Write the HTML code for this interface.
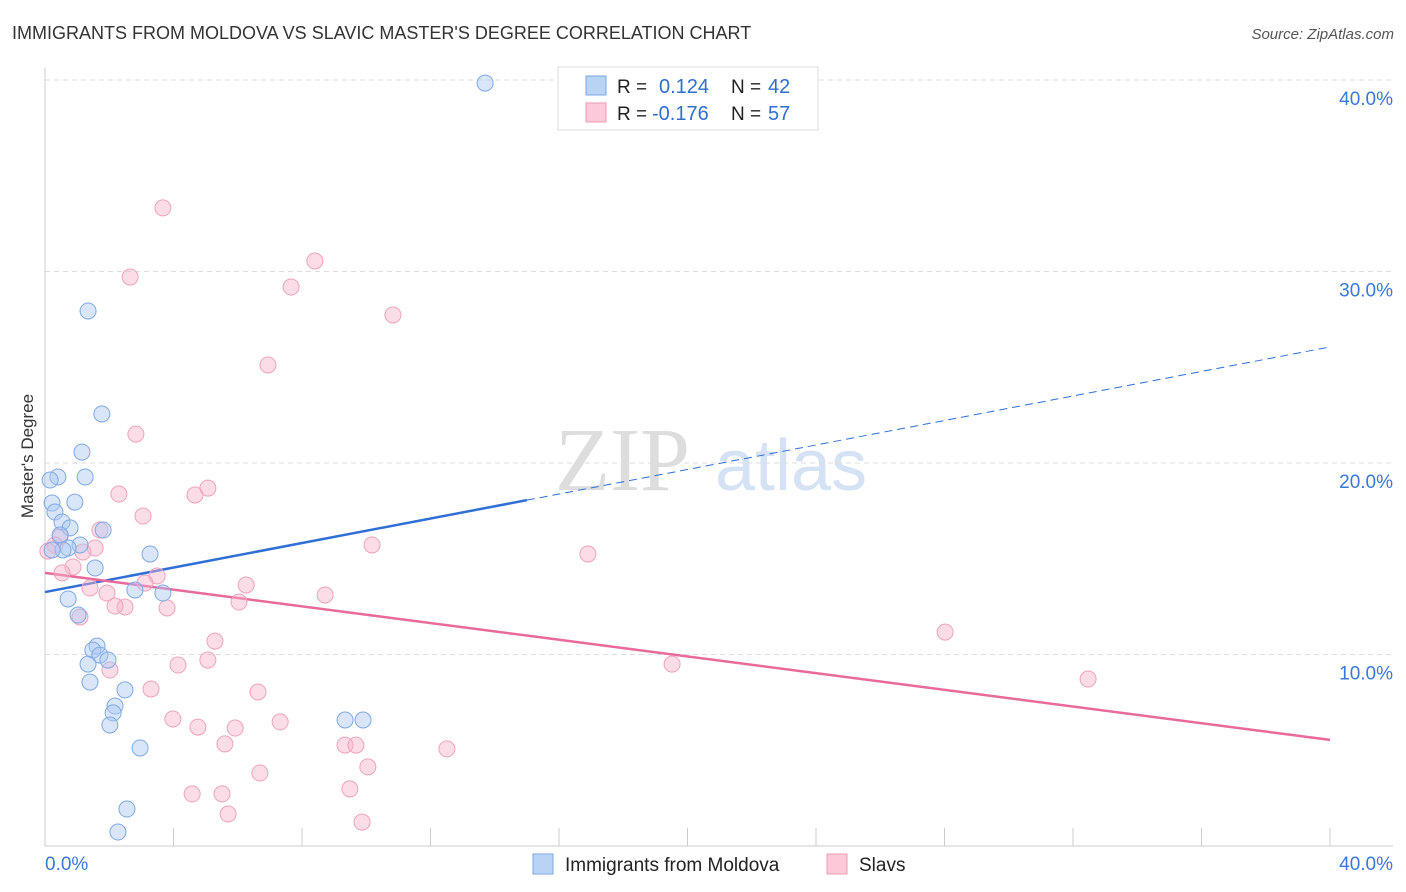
<!DOCTYPE html>
<html><head><meta charset="utf-8"><style>
body{margin:0;background:#fff;font-family:"Liberation Sans",sans-serif;}
svg{display:block}
</style></head><body>
<svg id="chart" width="1406" height="892">
<text x="12" y="39" font-size="18" fill="#333">IMMIGRANTS FROM MOLDOVA VS SLAVIC MASTER'S DEGREE CORRELATION CHART</text>
<text x="1394" y="39" font-size="15" fill="#555" font-style="italic" text-anchor="end">Source: ZipAtlas.com</text>
<text x="33" y="456" font-size="17" fill="#333" text-anchor="middle" transform="rotate(-90 33 456)">Master's Degree</text>
<g>
<text x="555" y="490" font-size="90" fill="#ddd" font-family="Liberation Serif,serif">ZIP</text>
<text x="715" y="490" font-size="72" fill="#d4e2f4">atlas</text>
</g>
<g id="grid"></g>
<g id="ticks"></g>
<g id="lines"></g>
<g id="pts"></g>
<g>
<rect x="558" y="67" width="260" height="63" fill="#fff" stroke="#ddd"/>
<rect x="586" y="76" width="20" height="19" fill="#b9d3f5" stroke="#7ea7e3"/>
<rect x="586" y="103" width="20" height="19" fill="#fbc9d8" stroke="#ec9ab4"/>
<text x="617" y="93" font-size="19" fill="#222">R = </text><text x="659" y="93" font-size="20" fill="#2f6fce">0.124</text>
<text x="731" y="93" font-size="19" fill="#222">N = </text><text x="768" y="93" font-size="20" fill="#2f6fce">42</text>
<text x="617" y="120" font-size="19" fill="#222">R = </text><text x="652" y="120" font-size="20" fill="#2f6fce">-0.176</text>
<text x="731" y="120" font-size="19" fill="#222">N = </text><text x="768" y="120" font-size="20" fill="#2f6fce">57</text>
</g>
<g>
<rect x="533" y="854" width="20" height="20" fill="#b9d3f5" stroke="#7ea7e3"/>
<text x="565" y="871" font-size="19" fill="#222">Immigrants from Moldova</text>
<rect x="827" y="854" width="20" height="20" fill="#fbc9d8" stroke="#ec9ab4"/>
<text x="859" y="871" font-size="19" fill="#222">Slavs</text>
</g>
</svg>
<script>
const yTicks=[10,20,30,40];
const xTickLabels=["0.0%","40.0%"];
const blueX=[13.70,1.34,1.77,1.15,1.25,0.40,0.16,0.93,0.22,0.31,0.53,0.78,1.81,0.47,1.09,0.72,0.56,0.22,3.27,1.56,0.72,2.80,3.67,1.03,1.62,1.49,1.71,1.96,1.34,1.40,2.49,2.18,2.12,2.02,2.96,9.34,9.90,2.55,2.27];
const blueY=[39.84,27.94,22.56,20.57,19.27,19.27,19.11,17.96,17.91,17.44,16.92,16.61,16.50,16.24,15.72,15.56,15.46,15.46,15.25,14.52,12.90,13.37,13.21,12.06,10.44,10.23,9.97,9.71,9.50,8.56,8.15,7.31,6.95,6.32,5.12,6.58,6.58,1.93,0.73];
const pinkX=[3.67,2.65,8.40,7.66,10.83,6.94,2.83,5.07,4.67,2.30,3.05,1.71,0.47,0.31,0.09,1.56,1.18,10.18,16.90,0.87,0.53,3.49,3.11,6.26,1.40,1.93,2.49,2.18,3.80,6.04,8.72,1.09,5.29,5.07,4.14,19.52,28.02,2.02,3.30,6.63,32.47,3.98,7.32,4.76,5.92,5.60,9.34,9.68,12.51,10.05,6.69,4.58,5.51,9.49,5.70,9.87];
const pinkY=[33.32,29.71,30.55,29.19,27.73,25.12,21.51,18.69,18.33,18.38,17.23,16.50,16.14,15.72,15.40,15.56,15.35,15.72,15.25,14.57,14.26,14.10,13.73,13.63,13.47,13.21,12.48,12.53,12.43,12.74,13.11,11.96,10.70,9.71,9.45,9.50,11.17,9.19,8.20,8.04,8.72,6.63,6.48,6.21,6.16,5.33,5.27,5.27,5.07,4.13,3.81,2.72,2.72,2.98,1.67,1.25];
const blueTrend=[13.26,26.06];
const pinkTrend=[14.26,5.54];
const NS="http://www.w3.org/2000/svg";
const sx=v=>45+v/40*1285, sy=v=>846-v*19.15;
function mk(tag,attrs,parent){const e=document.createElementNS(NS,tag);for(const k in attrs)e.setAttribute(k,attrs[k]);parent.appendChild(e);return e;}
const grid=document.getElementById('grid'),ticks=document.getElementById('ticks'),lines=document.getElementById('lines'),pts=document.getElementById('pts');
yTicks.forEach(t=>{
 const l=mk('line',{x1:45,x2:1393,y1:sy(t),y2:sy(t),stroke:'#ddd','stroke-dasharray':'5,4'},grid);
 
 
 const tx=mk('text',{x:1393,y:sy(t)+25,'font-size':19,fill:'#3b78d8','text-anchor':'end'},grid);
 tx.textContent=t.toFixed(1)+'%';
 
 
});
const ax=mk('line',{x1:45,x2:45,y1:68,y2:846,stroke:'#ccc'},ticks);


const bx=mk('line',{x1:45,x2:1393,y1:846,y2:846,stroke:'#ccc'},ticks);


for(let i=0;i<=10;i++){const x=sx(i*4);const t=mk('line',{x1:x,x2:x,y1:828,y2:846,stroke:'#ccc'},ticks);
 
 }
[[0,45,'start'],[1,1393,'end']].forEach(([i,x,a])=>{const t=mk('text',{x:x,y:870,'font-size':19,fill:'#3b78d8','text-anchor':a},ticks);t.textContent=xTickLabels[i];
 
 });
const bs=mk('line',{x1:sx(0),y1:sy(blueTrend[0]),x2:sx(15),y2:sy(blueTrend[0]+(blueTrend[1]-blueTrend[0])*15/40),stroke:'#2f6fd6','stroke-width':2.5},lines);


const bd=mk('line',{x1:sx(15),y1:sy(blueTrend[0]+(blueTrend[1]-blueTrend[0])*15/40),x2:sx(40),y2:sy(blueTrend[1]),stroke:'#2f6fd6','stroke-width':1,'stroke-dasharray':'8,5'},lines);


const pl=mk('line',{x1:sx(0),y1:sy(pinkTrend[0]),x2:sx(40),y2:sy(pinkTrend[1]),stroke:'#e8699a','stroke-width':2.5},lines);


pinkX.forEach((x,i)=>{const c=mk('circle',{cx:sx(x),cy:sy(pinkY[i]),r:8,fill:'rgba(248,180,202,0.45)',stroke:'#eea3bd','stroke-width':1},pts);
 
 });
blueX.forEach((x,i)=>{const c=mk('circle',{cx:sx(x),cy:sy(blueY[i]),r:8,fill:'rgba(170,200,245,0.45)',stroke:'#7fa8e6','stroke-width':1},pts);
 
 });
</script>
</body></html>
